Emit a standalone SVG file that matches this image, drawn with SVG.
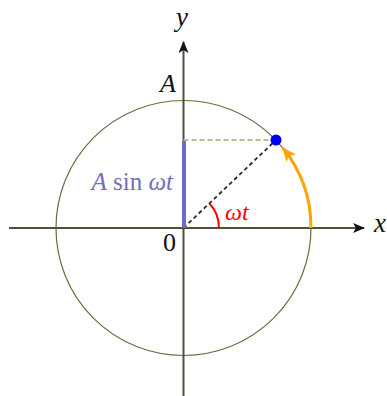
<svg xmlns="http://www.w3.org/2000/svg" width="387" height="396" viewBox="0 0 387 396">
<style>
.axis{stroke:#4f4f3c;stroke-width:2;fill:none}
.lbl{font-family:"Liberation Serif","DejaVu Serif",serif;font-size:26px;fill:#111}
.it{font-style:italic}
</style>
<defs>
<marker id="ah" viewBox="0 0 12 10" refX="11" refY="5" markerWidth="12" markerHeight="10" markerUnits="userSpaceOnUse" orient="auto">
<path d="M0,0 L12,5 L0,10 L3,5 Z" fill="#111"/>
</marker>
<marker id="oh" viewBox="0 0 14 12" refX="13" refY="6" markerWidth="14" markerHeight="12" markerUnits="userSpaceOnUse" orient="auto">
<path d="M0,0 L14,6 L0,12 L3,6 Z" fill="#ffa500"/>
</marker>
</defs>
<rect width="387" height="396" fill="#fff"/>
<g id="circle">
<circle cx="183.5" cy="228" r="127.5" fill="none" stroke="#6b6b40" stroke-width="1.2"/>
</g>
<g id="connectors">
<line class="axis" x1="9" y1="228" x2="364" y2="228" marker-end="url(#ah)"/>
<line class="axis" x1="183.5" y1="396" x2="183.5" y2="42" marker-end="url(#ah)"/>
<line x1="183.5" y1="140" x2="276" y2="140" stroke="#bdbd88" stroke-width="2" stroke-dasharray="5 3"/>
<line x1="183.5" y1="228" x2="276" y2="140" stroke="#2a2a2a" stroke-width="1.8" stroke-dasharray="4 3"/>
<line x1="184" y1="141" x2="184" y2="228" stroke="#6c6cc0" stroke-width="4"/>
<path d="M219,228 A35.5,35.5 0 0 0 209.5,203.5" fill="none" stroke="#ff0000" stroke-width="2"/>
<path d="M311,228 A127.5,127.5 0 0 0 283,148" fill="none" stroke="#ffa500" stroke-width="3" marker-end="url(#oh)"/>
</g>
<g id="point">
<circle cx="276" cy="140" r="5.5" fill="#0000ff"/>
</g>
<g id="labels">
<text class="lbl it" x="182" y="26" text-anchor="middle" style="font-size:27px">y</text>
<text class="lbl it" x="374" y="232" style="font-size:27px">x</text>
<text class="lbl it" x="176" y="92" text-anchor="end">A</text>
<text class="lbl" x="176" y="251" text-anchor="end">0</text>
<text class="lbl" x="173" y="190" text-anchor="end" style="fill:#7070bb;font-size:25px"><tspan class="it">A</tspan> sin <tspan class="it">ωt</tspan></text>
<text class="lbl it" x="225" y="220" style="fill:#ff0000;font-size:24px">ωt</text>
</g>
</svg>
